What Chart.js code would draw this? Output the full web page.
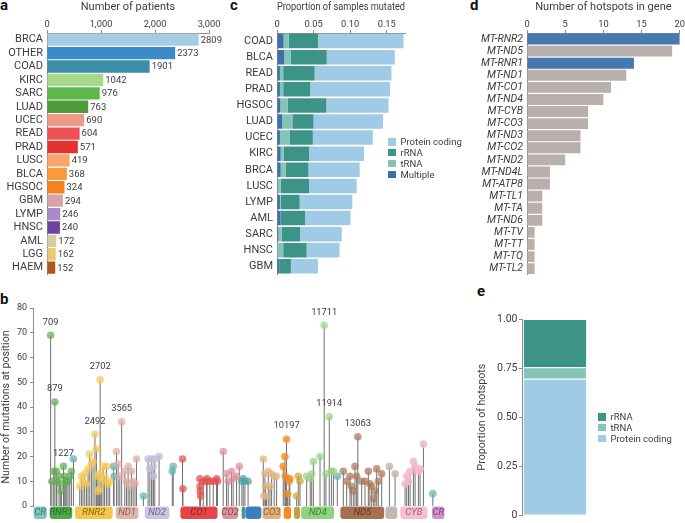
<!DOCTYPE html>
<html>
<head>
<meta charset="utf-8">
<script src="https://cdn.jsdelivr.net/npm/chart.js@4.4.1/dist/chart.umd.min.js"></script>
<style>
    html, body { margin: 0; padding: 0; background: #fff; }
    body { width: 685px; height: 523px; position: relative; overflow: hidden; font-family: Roboto, sans-serif; color: #3c3c3c; }
    canvas { position: absolute; }
    .tag { position: absolute; font: bold 15px/15px Roboto, sans-serif; color: #111; }
    .legend { position: absolute; font-size: 9.5px; color: #3c3c3c; }
    .legend div { height: 10.9px; line-height: 10.9px; white-space: nowrap; }
    .legend span { display: inline-block; width: 7.5px; height: 7.5px; margin-right: 5px; vertical-align: -0.5px; }
</style>
</head>
<body>
<div class="tag" style="left:0;top:-2px">a</div>
<div class="tag" style="left:230px;top:-2px">c</div>
<div class="tag" style="left:470px;top:-2px">d</div>
<div class="tag" style="left:0;top:292px">b</div>
<div class="tag" style="left:477px;top:284px">e</div>

<canvas id="patients" width="232" height="285" style="left:0;top:0"></canvas>
<canvas id="mutated" width="238" height="285" style="left:232px;top:0"></canvas>
<canvas id="genes" width="215" height="285" style="left:470px;top:0"></canvas>
<canvas id="positions" width="470" height="238" style="left:0;top:285px"></canvas>
<canvas id="share" width="215" height="238" style="left:470px;top:285px"></canvas>

<div class="legend" style="left:388px;top:137px">
    <div><span style="background:#9fcbe7"></span>Protein coding</div>
    <div><span style="background:#3b9487"></span>rRNA</div>
    <div><span style="background:#85c4b6"></span>tRNA</div>
    <div><span style="background:#3d6fa9"></span>Multiple</div>
</div>
<div class="legend" style="left:598px;top:412px">
    <div><span style="background:#3b9487"></span>rRNA</div>
    <div><span style="background:#85c4b6"></span>tRNA</div>
    <div><span style="background:#9fcbe7"></span>Protein coding</div>
</div>

<script>
// a: patients per cancer type
const patientTypes = ['BRCA', 'OTHER', 'COAD', 'KIRC', 'SARC', 'LUAD', 'UCEC', 'READ', 'PRAD', 'LUSC', 'BLCA', 'HGSOC', 'GBM', 'LYMP', 'HNSC', 'AML', 'LGG', 'HAEM'];
const patientCounts = [2809, 2373, 1901, 1042, 976, 763, 690, 604, 571, 419, 368, 324, 294, 246, 240, 172, 162, 152];
const patientTicks = [0, 1000, 2000, 3000];

// c: proportion of samples mutated, by class
const mutatedTypes = ['COAD', 'BLCA', 'READ', 'PRAD', 'HGSOC', 'LUAD', 'UCEC', 'KIRC', 'BRCA', 'LUSC', 'LYMP', 'AML', 'SARC', 'HNSC', 'GBM'];
const mutatedMultiple = [0.009, 0.010, 0.004, 0.004, 0.0045, 0.007, 0.004, 0.005, 0.005, 0.001, 0.004, 0.005, 0.002, 0.0005, 0.003];
const mutatedTrna = [0.007, 0.009, 0.0045, 0.0045, 0.010, 0.014, 0.013, 0.004, 0.007, 0.004, 0.001, 0.0005, 0.0045, 0.008, 0];
const mutatedRrna = [0.040, 0.049, 0.043, 0.037, 0.053, 0.029, 0.032, 0.035, 0.031, 0.039, 0.026, 0.033, 0.025, 0.032, 0.016];
const mutatedCoding = [0.117, 0.093, 0.105, 0.109, 0.085, 0.095, 0.082, 0.075, 0.070, 0.065, 0.072, 0.062, 0.057, 0.045, 0.037];
const mutatedTicks = [0, 0.05, 0.10, 0.15];

// d: hotspots per gene
const hotspotGenes = ['MT-RNR2', 'MT-ND5', 'MT-RNR1', 'MT-ND1', 'MT-CO1', 'MT-ND4', 'MT-CYB', 'MT-CO3', 'MT-ND3', 'MT-CO2', 'MT-ND2', 'MT-ND4L', 'MT-ATP8', 'MT-TL1', 'MT-TA', 'MT-ND6', 'MT-TV', 'MT-TT', 'MT-TQ', 'MT-TL2'];
const hotspotCounts = [20, 19, 14, 13, 11, 10, 8, 8, 7, 7, 5, 3, 3, 2, 2, 2, 1, 1, 1, 1];
const hotspotGeneTicks = [0, 5, 10, 15, 20];

// e: share of hotspots by class
const shareCoding = [0.696];
const shareTrna = [0.058];
const shareRrna = [0.246];
const shareTicks = [0, 0.25, 0.5, 0.75, 1];

// b: mutations per position (position, count), grouped by gene
const rnr1Sites = [[709, 69], [879, 42], [760, 10], [833, 14], [940, 14], [960, 10], [1048, 12], [1100, 9], [1142, 6], [1227, 16], [1260, 12], [1316, 10], [1360, 10], [1410, 10], [1477, 12], [1544, 14]];
const rnr2Sites = [[1880, 8], [1946, 12], [2010, 10], [2080, 13], [2150, 9], [2215, 15], [2281, 21], [2350, 17], [2416, 18], [2492, 29], [2550, 23], [2580, 12], [2617, 6], [2650, 13], [2684, 7], [2702, 51], [2750, 10], [2818, 16], [2880, 12], [2952, 16], [3020, 9], [3086, 10]];
const nd1Sites = [[3357, 22], [3424, 17], [3491, 12], [3565, 34], [3692, 14], [3759, 10], [3826, 16], [3893, 8], [3960, 14], [4027, 10], [4100, 9], [4161, 19]];
const nd2Sites = [[4629, 19], [4700, 15], [4763, 19], [4830, 16], [4840, 12], [4897, 19], [5071, 20]];
const co1Sites = [[6013, 19], [6030, 7], [6711, 11], [6720, 8], [6730, 6], [6740, 4], [6845, 10], [6979, 10], [7000, 11], [7113, 10], [7248, 10], [7382, 11], [7420, 10]];
const co2Sites = [[7650, 22], [7784, 13], [7850, 10], [7986, 14], [8050, 11], [8187, 12], [8294, 16]];
const atpSites = [[8400, 10], [8455, 11], [8522, 10], [8650, 10]];
const co3Sites = [[9261, 19], [9280, 4], [9328, 13], [9350, 8], [9395, 4], [9461, 14], [9530, 8], [9596, 13], [9700, 12], [9797, 12]];
const nd3Sites = [[10064, 16], [10131, 20], [10150, 12], [10197, 27], [10240, 5], [10300, 10], [10331, 11]];
const nd4lSites = [[10603, 4], [10670, 12], [10737, 10]];
const nd4Sites = [[11006, 12], [11150, 11], [11208, 13], [11275, 18], [11543, 20], [11711, 73], [11780, 13], [11914, 36], [12000, 14], [12080, 14]];
const nd5Sites = [[12480, 14], [12614, 10], [12748, 12], [12800, 8], [12882, 6], [12950, 16], [13016, 12], [13063, 28], [13218, 10], [13352, 10], [13487, 14], [13550, 9], [13621, 8], [13700, 3], [13755, 6], [13822, 15], [13889, 10], [14023, 13]];
const nd6Sites = [[14332, 16], [14561, 13]];
const cybSites = [[14964, 9], [15031, 12], [15100, 10], [15165, 14], [15299, 18], [15366, 16], [15500, 14], [15567, 15], [15702, 25]];
const trnaSites = [[1625, 19], [3240, 16], [3260, 12], [4440, 4], [5600, 14], [5640, 16], [12240, 12], [16080, 5]];
const labelledSites = [709, 879, 1227, 2492, 2702, 3565, 10197, 11711, 11914, 13063];
const mutationTicks = [0, 10, 20, 30, 40, 50, 60, 70, 80];

// b: gene track along the mitochondrial genome
const trackNames = ['CR', 'RNR1', 'RNR2', 'ND1', 'ND2', 'CO1', 'CO2', 'ATP8', 'ATP6', 'CO3', 'ND3', 'ND4L', 'ND4', 'ND5', 'ND6', 'CYB', 'CR'];
const trackStarts = [0, 648, 1671, 3307, 4470, 5904, 7586, 8366, 8527, 9207, 10059, 10470, 10760, 12337, 14149, 14747, 16024];
const trackEnds = [576, 1601, 3229, 4262, 5511, 7445, 8269, 8572, 9207, 9990, 10404, 10766, 12137, 14148, 14673, 15887, 16569];
const trackLabels = ['CR', 'RNR1', 'RNR2', 'ND1', 'ND2', 'CO1', 'CO2', '', '', 'CO3', '', '', 'ND4', 'ND5', '', 'CYB', 'CR'];
const genomeLength = 16569;

// styles
const axisLine = '#8c8c8c';
const patientColours = ['#a6cee3', '#3a8bc8', '#3a8ea8', '#a8d88c', '#5db84b', '#4f9a3a', '#ee9a88', '#eb5454', '#e3322f', '#faa66a', '#f99b36', '#f6821f', '#d6a3a7', '#a88cc9', '#6a43a0', '#d8cc9e', '#ecc870', '#b0571f'];
const trackFill = ['#80c4c2', '#4fa94c', '#f3c84c', '#ddb5aa', '#cbc5dd', '#e4474b', '#d9949b', '#3f9c9c', '#3d7ebd', '#ddb27f', '#f48a20', '#c7a23a', '#8fd27f', '#a5704f', '#c0b8b2', '#f6bfd6', '#cf94c7'];
const trackText = ['#2f7c7a', '#2a6e28', '#8a6a10', '#8c5e52', '#6f6890', '#8c1e22', '#8a4a52', '', '', '#8a6030', '', '', '#3f7f35', '#5e3a24', '', '#a0607c', '#7c4478'];
const siteGroups = [
    [rnr1Sites, 'rgba(98,172,84,0.72)'],
    [rnr2Sites, 'rgba(244,200,82,0.72)'],
    [nd1Sites, 'rgba(222,172,162,0.72)'],
    [nd2Sites, 'rgba(196,190,218,0.8)'],
    [co1Sites, 'rgba(228,78,80,0.72)'],
    [co2Sites, 'rgba(220,142,152,0.72)'],
    [atpSites, 'rgba(80,162,166,0.72)'],
    [co3Sites, 'rgba(222,182,132,0.72)'],
    [nd3Sites, 'rgba(245,140,40,0.8)'],
    [nd4lSites, 'rgba(200,166,62,0.72)'],
    [nd4Sites, 'rgba(152,212,132,0.72)'],
    [nd5Sites, 'rgba(170,120,90,0.72)'],
    [nd6Sites, 'rgba(190,182,175,0.8)'],
    [cybSites, 'rgba(245,182,206,0.85)'],
    [trnaSites, 'rgba(100,180,176,0.72)']
];

Chart.defaults.font.family = 'Roboto, sans-serif';
Chart.defaults.color = '#3c3c3c';
Chart.defaults.animation = false;
Chart.defaults.plugins.legend.display = false;
Chart.defaults.plugins.tooltip.enabled = false;

const fixWidth = w => scale => { scale.width = w; };
const fixHeight = h => scale => { scale.height = h; };
const setTicks = values => scale => { scale.ticks = values.map(value => ({ value })); };
const decimals = v => v === 0 ? '0' : v.toFixed(2);

const topAxis = (title, ticks, max, format) => ({
    position: 'top', min: 0, max,
    afterBuildTicks: setTicks(ticks),
    afterFit: fixHeight(33),
    title: { display: true, text: title, font: { size: 11 }, padding: { top: 1, bottom: 0 } },
    ticks: { font: { size: 9.3 }, padding: 0, callback: format },
    grid: { drawOnChartArea: false, tickLength: 3, color: axisLine },
    border: { color: axisLine }
});

const categoryAxis = (width, font) => ({
    afterFit: fixWidth(width),
    ticks: { font, padding: 4, autoSkip: false },
    grid: { display: false, drawTicks: false },
    border: { color: axisLine }
});

const barValueLabels = {
    id: 'barValueLabels',
    afterDatasetsDraw(chart) {
        const { ctx } = chart;
        const values = chart.data.datasets[0].data;
        ctx.save();
        ctx.font = '9.5px Roboto, sans-serif';
        ctx.fillStyle = '#3c3c3c';
        ctx.textBaseline = 'middle';
        chart.getDatasetMeta(0).data.forEach((bar, i) => ctx.fillText(String(values[i]), bar.x + 2, bar.y + 0.5));
        ctx.restore();
    }
};

new Chart(document.getElementById('patients'), {
    type: 'bar',
    data: { labels: patientTypes, datasets: [{ data: patientCounts, backgroundColor: patientColours, barPercentage: 0.92, categoryPercentage: 1 }] },
    options: {
        indexAxis: 'y', responsive: false,
        layout: { padding: { right: 23, bottom: 5 } },
        scales: {
            x: topAxis('Number of patients', patientTicks, 3000, v => v.toLocaleString('en-US')),
            y: categoryAxis(47, { size: 11 })
        }
    },
    plugins: [barValueLabels]
});

const stackSet = (data, colour) => ({ data, backgroundColor: colour, barPercentage: 0.9, categoryPercentage: 1 });

new Chart(document.getElementById('mutated'), {
    type: 'bar',
    data: {
        labels: mutatedTypes,
        datasets: [
            stackSet(mutatedMultiple, '#3d6fa9'),
            stackSet(mutatedTrna, '#85c4b6'),
            stackSet(mutatedRrna, '#3b9487'),
            stackSet(mutatedCoding, '#9fcbe7')
        ]
    },
    options: {
        indexAxis: 'y', responsive: false,
        layout: { padding: { right: 65, bottom: 5 } },
        scales: {
            x: { ...topAxis('Proportion of samples mutated', mutatedTicks, 0.175, decimals), stacked: true },
            y: { ...categoryAxis(45, { size: 11 }), stacked: true }
        }
    }
});

new Chart(document.getElementById('genes'), {
    type: 'bar',
    data: {
        labels: hotspotGenes,
        datasets: [{
            data: hotspotCounts,
            backgroundColor: hotspotGenes.map(g => g.includes('RNR') ? '#4679b1' : '#b9afac'),
            barPercentage: 0.9, categoryPercentage: 1
        }]
    },
    options: {
        indexAxis: 'y', responsive: false,
        layout: { padding: { right: 5, bottom: 5 } },
        scales: {
            x: topAxis('Number of hotspots in gene', hotspotGeneTicks, 20, v => String(v)),
            y: categoryAxis(57, { size: 10.5, style: 'italic' })
        }
    }
});

const lollipopExtras = {
    id: 'lollipopExtras',
    beforeDatasetsDraw(chart) {
        const { ctx, scales: { x, y } } = chart;
        const base = y.getPixelForValue(0);
        ctx.save();
        ctx.strokeStyle = '#707070';
        ctx.lineWidth = 1;
        chart.data.datasets.forEach(ds => ds.data.forEach(p => {
            const px = x.getPixelForValue(p.x);
            ctx.beginPath();
            ctx.moveTo(px, base);
            ctx.lineTo(px, y.getPixelForValue(p.y));
            ctx.stroke();
        }));
        ctx.restore();
    },
    afterDatasetsDraw(chart) {
        const { ctx, scales: { x, y } } = chart;
        const base = y.getPixelForValue(0);
        ctx.save();
        // gene track
        trackNames.forEach((name, i) => {
            const left = x.getPixelForValue(trackStarts[i]) + 0.6;
            const right = x.getPixelForValue(trackEnds[i]) - 0.6;
            ctx.fillStyle = trackFill[i];
            ctx.beginPath();
            ctx.roundRect(left, base + 0.5, right - left, 12.5, 3);
            ctx.fill();
            if (trackLabels[i]) {
                ctx.font = 'italic 9.5px Roboto, sans-serif';
                ctx.fillStyle = trackText[i];
                ctx.textAlign = 'center';
                ctx.textBaseline = 'middle';
                ctx.fillText(trackLabels[i], (left + right) / 2, base + 7);
            }
        });
        // labels over the main hotspots
        ctx.font = '9.3px Roboto, sans-serif';
        ctx.fillStyle = '#3c3c3c';
        ctx.textAlign = 'center';
        ctx.textBaseline = 'middle';
        chart.data.datasets.forEach(ds => ds.data.forEach(p => {
            if (!labelledSites.includes(p.x)) return;
            ctx.fillText(String(p.x), x.getPixelForValue(p.x), y.getPixelForValue(p.y) - 13);
        }));
        ctx.restore();
    }
};

new Chart(document.getElementById('positions'), {
    type: 'scatter',
    data: {
        datasets: siteGroups.map(([sites, colour]) => ({
            data: sites.map(([pos, count]) => ({ x: pos, y: count })),
            backgroundColor: colour,
            borderWidth: 0,
            pointRadius: 3.8
        }))
    },
    options: {
        responsive: false,
        clip: false,
        layout: { padding: { top: 23, right: 25, bottom: 17 } },
        scales: {
            x: { type: 'linear', min: 0, max: genomeLength, display: false },
            y: {
                min: 0, max: 80,
                afterBuildTicks: setTicks(mutationTicks),
                afterFit: fixWidth(33),
                title: { display: true, text: 'Number of mutations at position', font: { size: 10.6 }, padding: 0 },
                ticks: { font: { size: 9 }, padding: 3 },
                grid: { drawOnChartArea: false, tickLength: 3, color: axisLine },
                border: { color: axisLine }
            }
        }
    },
    plugins: [lollipopExtras]
});

const shareSet = (data, colour) => ({
    data, backgroundColor: colour, borderColor: '#fff',
    borderWidth: { top: 1, bottom: 0, left: 0, right: 0 },
    barPercentage: 0.95, categoryPercentage: 1
});

new Chart(document.getElementById('share'), {
    type: 'bar',
    data: {
        labels: [''],
        datasets: [shareSet(shareCoding, '#9fcbe7'), shareSet(shareTrna, '#85c4b6'), shareSet(shareRrna, '#3b9487')]
    },
    options: {
        responsive: false,
        layout: { padding: { left: 6, top: 34, right: 97, bottom: 5 } },
        scales: {
            x: { stacked: true, display: false },
            y: {
                stacked: true, min: 0, max: 1,
                afterBuildTicks: setTicks(shareTicks),
                afterFit: fixWidth(46),
                title: { display: true, text: 'Proportion of hotspots', font: { size: 10.6 }, padding: 0 },
                ticks: { font: { size: 10.5 }, padding: 1.5, callback: decimals },
                grid: { drawOnChartArea: false, tickLength: 3, color: axisLine },
                border: { color: axisLine }
            }
        }
    }
});
</script>
</body>
</html>
